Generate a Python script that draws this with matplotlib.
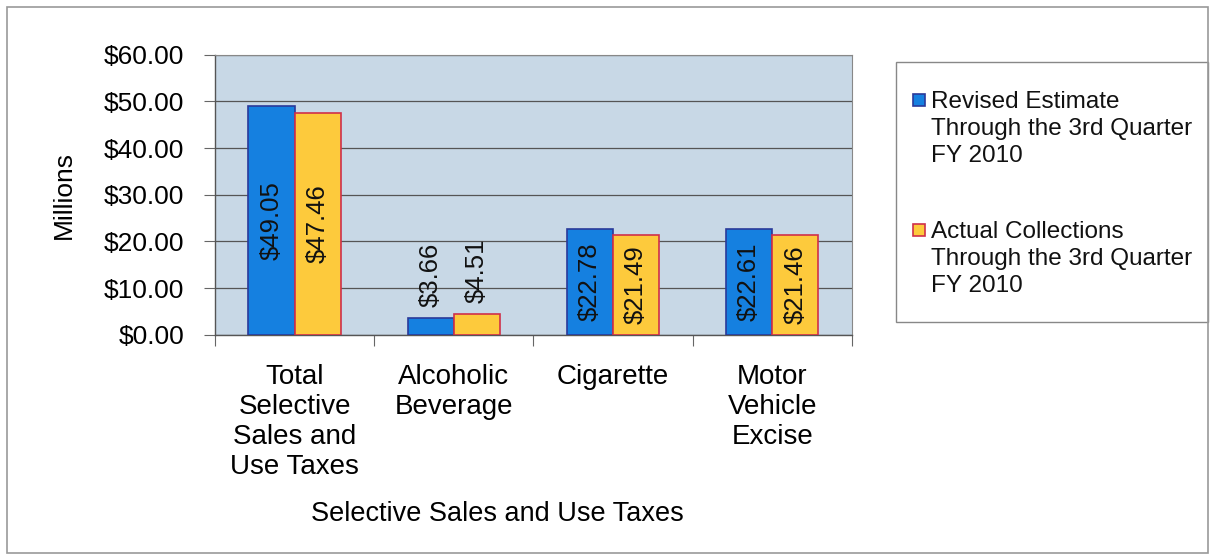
import matplotlib
matplotlib.use("Agg")
import matplotlib.pyplot as plt
from matplotlib.patches import Rectangle

categories = ["Total\nSelective\nSales and\nUse Taxes", "Alcoholic\nBeverage", "Cigarette", "Motor\nVehicle\nExcise"]
revised = [49.05, 3.66, 22.78, 22.61]
actual = [47.46, 4.51, 21.49, 21.46]
series_names = ["Revised Estimate\nThrough the 3rd Quarter\nFY 2010",
                "Actual Collections\nThrough the 3rd Quarter\nFY 2010"]
yticks = [0, 10, 20, 30, 40, 50, 60]

plt.rcParams['font.family'] = ['Liberation Sans', 'DejaVu Sans']

W, H = 1215, 559
fig = plt.figure(figsize=(W / 100, H / 100), dpi=100)
ax = fig.add_axes([0.177, 0.401, 0.524, 0.501])

blue = "#1580e0"
blue_edge = "#2a3a9a"
yellow = "#fdca3c"
yellow_edge = "#d0304a"
ax.set_facecolor("#c8d8e6")

w = 0.29
x = list(range(len(categories)))
b1 = ax.bar([i - w/2 for i in x], revised, width=w, color=blue, edgecolor=blue_edge, linewidth=1.2, zorder=3)
b2 = ax.bar([i + w/2 for i in x], actual, width=w, color=yellow, edgecolor=yellow_edge, linewidth=1.2, zorder=3)

for bars, vals in ((b1, revised), (b2, actual)):
    for rect, v in zip(bars, vals):
        cx = rect.get_x() + rect.get_width() / 2
        txt = f"${v:.2f}"
        if v > 10:
            ax.text(cx, v / 2, txt, rotation=90, ha="center", va="center", fontsize=18.5, color="#111111", zorder=4)
        else:
            ax.annotate(txt, (cx, v), xytext=(0, 8), textcoords="offset points", rotation=90,
                        ha="center", va="bottom", fontsize=18.5, color="#111111", zorder=4)

ax.set_xlim(-0.5, len(categories) - 0.5)
ax.set_ylim(0, 60)
ax.set_yticks(yticks)
ax.set_yticklabels([f"${t:.2f}" for t in yticks], fontsize=19)
ax.yaxis.grid(True, color="#555555", linewidth=0.9, zorder=1)
ax.set_axisbelow(True)

ax.set_xticks([i - 0.5 for i in range(len(categories) + 1)])
ax.set_xticklabels([])
ax.set_xticks(x, minor=True)
ax.set_xticklabels(categories, minor=True, fontsize=20, linespacing=1.2)
ax.tick_params(axis="x", which="minor", length=0, pad=21)
ax.tick_params(axis="x", which="major", length=8, color="#666666", direction="out")
ax.tick_params(axis="y", length=8, color="#666666", direction="out", pad=14)

for s in ["top", "right"]:
    ax.spines[s].set_color("#888888")
    ax.spines[s].set_linewidth(0.8)
for s in ["left", "bottom"]:
    ax.spines[s].set_color("#555555")
    ax.spines[s].set_linewidth(1.0)

ax.set_ylabel("Millions", fontsize=19)
ax.yaxis.set_label_coords(-0.218, 0.5)
ax.set_xlabel("Selective Sales and Use Taxes", fontsize=19.5, labelpad=15)
ax.xaxis.label.set_x(0.444)

# legend (drawn manually so the marker sits beside the first line of each label)
def fx(px):
    return px / W

def fy(py):
    return 1 - py / H

fig.patches.append(Rectangle((fx(896), fy(322)), fx(1208) - fx(896), fy(62) - fy(322),
                             transform=fig.transFigure, fill=True, facecolor="white",
                             edgecolor="#888888", linewidth=1.0))
entries = [(series_names[0], blue, blue_edge, 100), (series_names[1], yellow, yellow_edge, 230)]
for name, fc, ec, cy in entries:
    s = 12
    fig.patches.append(Rectangle((fx(913), fy(cy + s / 2)), fx(s), s / H, transform=fig.transFigure,
                                 facecolor=fc, edgecolor=ec, linewidth=1.2))
    fig.text(fx(931), fy(cy - 9), name, ha="left", va="top", fontsize=17.5, linespacing=1.28,
             color="#111111")

fig.patches.append(Rectangle((0.006, 0.01), 0.988, 0.978, transform=fig.transFigure,
                             fill=False, edgecolor="#999999", linewidth=1.2))

fig.savefig("out.png", dpi=100)
